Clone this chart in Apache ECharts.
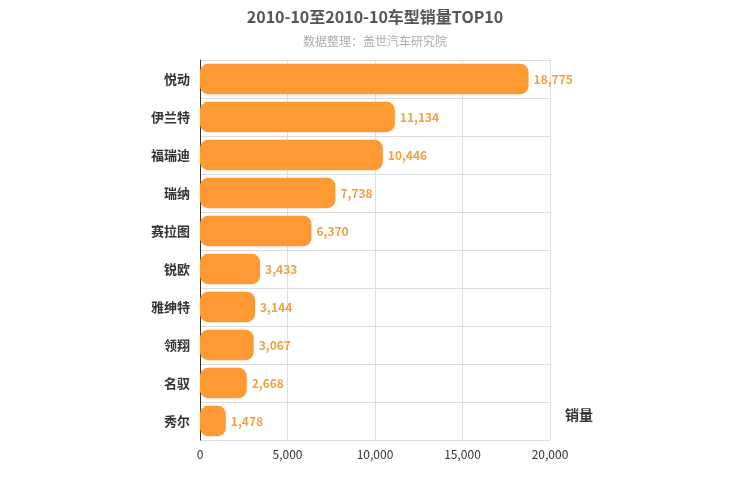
<!DOCTYPE html>
<html>
<head>
<meta charset="utf-8">
<script src="https://cdn.jsdelivr.net/npm/echarts@6/dist/echarts.min.js"></script>
<style>html,body{margin:0;padding:0;}#main{width:750px;height:500px;}</style>
</head>
<body>
<div id="main"></div>
<script>
var models = ['悦动', '伊兰特', '福瑞迪', '瑞纳', '赛拉图', '锐欧', '雅绅特', '领翔', '名驭', '秀尔'];
var sales = [18775, 11134, 10446, 7738, 6370, 3433, 3144, 3067, 2668, 1478];
var xTicks = [0, 5000, 10000, 15000, 20000];

var myChart = echarts.init(document.getElementById('main'));
var option = {
    textStyle: {fontFamily: '"Noto Sans CJK SC", sans-serif'},
    title: {
        text: '2010-10至2010-10车型销量TOP10',
        subtext: '数据整理：盖世汽车研究院',
        left: 'center',
        top: 4,
        itemGap: 10,
        textStyle: {fontSize: 16, fontWeight: 'bold', color: '#555'},
        subtextStyle: {fontSize: 12, color: '#aaa'}
    },
    grid: {left: 200, right: 200, top: 60, bottom: 60},
    xAxis: {
        type: 'value',
        min: xTicks[0],
        max: xTicks[xTicks.length - 1],
        interval: 5000,
        name: '销量',
        nameLocation: 'end',
        nameGap: 15,
        nameTextStyle: {fontSize: 14, fontWeight: 'bold', color: '#333', verticalAlign: 'bottom', padding: [0, 0, 18, 0]},
        axisLine: {show: false},
        axisTick: {show: false},
        axisLabel: {color: '#333', fontSize: 12},
        splitLine: {lineStyle: {color: '#ddd'}}
    },
    yAxis: {
        type: 'category',
        inverse: true,
        data: models,
        axisLine: {lineStyle: {color: '#333'}},
        axisTick: {show: false},
        axisLabel: {color: '#333', fontSize: 13, fontWeight: 'bold', margin: 10},
        splitLine: {show: true, lineStyle: {color: '#ddd'}}
    },
    series: [{
        type: 'bar',
        data: sales,
        barWidth: '80%',
        itemStyle: {color: '#ff9933', borderRadius: 8},
        label: {
            show: true,
            position: 'right',
            color: '#f0a040',
            fontSize: 12,
            fontWeight: 'bold',
            formatter: function (p) { return p.value.toLocaleString('en-US'); }
        }
    }]
};
myChart.setOption(option);
</script>
</body>
</html>
